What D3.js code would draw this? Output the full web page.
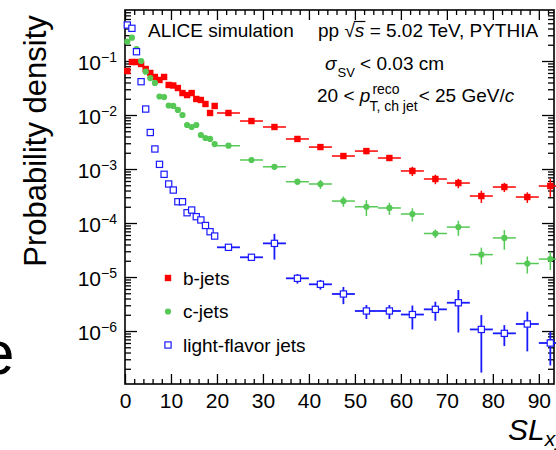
<!DOCTYPE html>
<html><head><meta charset="utf-8">
<script src="https://cdn.jsdelivr.net/npm/d3@7"></script>
<style>
html,body{margin:0;padding:0;background:#fff;}
svg{display:block;}
text{font-family:"Liberation Sans",Arial,Helvetica,sans-serif;fill:#000;white-space:pre;}
</style></head><body>
<svg id="c" width="556" height="450"></svg>
<script>
// ---------- data ----------
const xCenters = [0.5,1.5,2.5,3.5,4.5,5.5,6.5,7.5,8.5,9.5,10.5,11.5,12.5,13.5,14.5,15.5,16.5,17.5,18.5,19.5,
                  22.5,27.5,32.5,37.5,42.5,47.5,52.5,57.5,62.5,67.5,72.5,77.5,82.5,87.5,92.5];
const xHalfWidths = [0.5,0.5,0.5,0.5,0.5,0.5,0.5,0.5,0.5,0.5,0.5,0.5,0.5,0.5,0.5,0.5,0.5,0.5,0.5,0.5,
                     2.5,2.5,2.5,2.5,2.5,2.5,2.5,2.5,2.5,2.5,2.5,2.5,2.5,2.5,2.5];
const bJets = [0.0653,0.0958,0.0958,0.088,0.0711,0.060,0.0506,0.0445,0.0506,0.036,0.0352,0.0316,0.0255,0.0234,0.0255,0.0198,0.019,0.016,0.0109,0.0147,
               0.0109,0.00774,0.0060,0.0036,0.00255,0.00174,0.00215,0.0016,0.00092,0.000653,0.00055,0.000316,0.000464,0.000303,0.000484];
const bJetsErr = [0.001,0.0012,0.0012,0.0011,0.001,0.0009,0.0008,0.0008,0.0008,0.0007,0.0007,0.0006,0.0006,0.0006,0.0006,0.0005,0.0005,0.0005,0.0004,0.0004,
                  0.0002,0.00015,0.00015,0.0001,0.0001,0.0001,0.00028,0.0002,0.00018,0.00013,0.00011,0.00008,0.00009,0.000067,0.00018];
const cJets = [0.2276,0.270,0.167,0.100,0.0634,0.0484,0.0392,0.0220,0.0215,0.0150,0.0147,0.0124,0.0100,0.00653,0.0060,0.00653,0.00426,0.00375,0.0036,0.0029,
               0.0027,0.00147,0.0011,0.000582,0.000528,0.000255,0.0002,0.00019,0.000147,0.000064,0.000084,0.000026,0.000053,0.0000178,0.0000215];
const cJetsErr = [0.002,0.002,0.0015,0.001,0.0008,0.0007,0.0006,0.0005,0.0005,0.0004,0.0004,0.0004,0.0003,0.0003,0.0003,0.0003,0.0002,0.0002,0.0002,0.0002,
                  0.0002,0.00012,0.00009,0.00007,0.0001,0.000055,0.000065,0.000048,0.00004,0.0000115,0.000026,0.000009,0.000021,0.0000062,0.000008];
const lfJets = [0.464,0.403,0.1486,0.0414,0.0129,0.00474,0.00235,0.00122,0.000798,0.000528,0.000408,0.000248,0.000248,0.000155,0.000174,0.000131,0.000114,0.000090,0.000069,0.0000574,
                0.0000355,0.0000232,0.000042,0.00000946,0.00000733,0.00000485,0.00000235,0.00000235,0.00000202,0.00000252,0.00000334,0.00000107,0.000000906,0.00000135,0.0000006];
const lfJetsErr = [0.004,0.004,0.002,0.0008,0.0003,0.0001,0.00006,0.00004,0.00003,0.00002,0.00002,0.00001,0.00001,0.000008,0.000008,0.000007,0.000006,0.000005,0.000004,0.000004,
                   0.000003,0.0000025,0.000021,0.0000019,0.0000015,0.0000017,0.00000068,0.00000068,0.00000095,0.00000097,0.0000024,0.0000009,0.00000038,0.00000093,0.00000037];
const xTickValues = [0,10,20,30,40,50,60,70,80,90];
const yTickValues = [1e-1,1e-2,1e-3,1e-4,1e-5,1e-6];
const yTickExponents = ["\u22121","\u22122","\u22123","\u22124","\u22125","\u22126"];
const legendLabels = ["b-jets","c-jets","light-flavor jets"];

// ---------- layout ----------
const L = 125, R = 554, T = 10, B = 384;
const svg = d3.select("#c");
const x = d3.scaleLinear().domain([0, 93.3]).range([L, R]);
const y = d3.scaleLog().domain([1.045e-7, 0.88]).range([B, T]);

const colB = "#ff0000", colC = "#55c855", colL = "#1a1aff";

// ---------- axes ----------
const xMinor = d3.range(0, 94, 2).filter(v => v % 10 !== 0);
const yMinor = [];
for (let e = -7; e <= -1; e++) for (let k = 2; k <= 9; k++) { const v = k * Math.pow(10, e); if (v >= 1.045e-7 && v <= 0.88) yMinor.push(v); }

function styleAxis(g){ g.selectAll("path.domain").remove(); g.selectAll(".tick line").attr("stroke","#000").attr("stroke-width",1.3); }

svg.append("g").attr("transform",`translate(0,${B})`)
  .call(d3.axisBottom(x).tickValues(xTickValues).tickSizeInner(-10).tickSizeOuter(0).tickPadding(9).tickFormat(d3.format("d")))
  .call(styleAxis)
  .call(g => g.selectAll("text").attr("font-size",21).attr("font-family","'Liberation Sans',Arial,sans-serif").attr("fill","#000"));
svg.append("g").attr("transform",`translate(0,${B})`)
  .call(d3.axisBottom(x).tickValues(xMinor).tickSizeInner(-5).tickSizeOuter(0).tickFormat(""))
  .call(styleAxis);
svg.append("g").attr("transform",`translate(0,${T})`)
  .call(d3.axisTop(x).tickValues(xTickValues).tickSizeInner(-10).tickSizeOuter(0).tickFormat(""))
  .call(styleAxis);
svg.append("g").attr("transform",`translate(0,${T})`)
  .call(d3.axisTop(x).tickValues(xMinor).tickSizeInner(-5).tickSizeOuter(0).tickFormat(""))
  .call(styleAxis);
svg.append("g").attr("transform",`translate(${L},0)`)
  .call(d3.axisLeft(y).tickValues(yTickValues).tickSizeInner(-12).tickSizeOuter(0).tickFormat(""))
  .call(styleAxis);
svg.append("g").attr("transform",`translate(${L},0)`)
  .call(d3.axisLeft(y).tickValues(yMinor).tickSizeInner(-6).tickSizeOuter(0).tickFormat(""))
  .call(styleAxis);
svg.append("g").attr("transform",`translate(${R},0)`)
  .call(d3.axisRight(y).tickValues(yTickValues).tickSizeInner(-12).tickSizeOuter(0).tickFormat(""))
  .call(styleAxis);
svg.append("g").attr("transform",`translate(${R},0)`)
  .call(d3.axisRight(y).tickValues(yMinor).tickSizeInner(-6).tickSizeOuter(0).tickFormat(""))
  .call(styleAxis);

// y tick labels 10^n
const yl = svg.append("g");
yTickValues.forEach((v,i) => {
  const t = yl.append("text").attr("x", 117).attr("y", y(v) + 8.5).attr("text-anchor","end").attr("font-size",21);
  t.append("tspan").text("10");
  t.append("tspan").attr("font-size",14).attr("dy",-8).text(yTickExponents[i]);
});

// frame
svg.append("rect").attr("x",L).attr("y",T).attr("width",R-L).attr("height",B-T)
  .attr("fill","none").attr("stroke","#000").attr("stroke-width",1.6);

// ---------- series ----------
function drawSeries(vals, errs, color, kind, lw){
  const data = xCenters.map((c,i) => ({c, hw: xHalfWidths[i], v: vals[i], e: errs[i]}));
  const g = svg.append("g");
  g.selectAll("line.h").data(data).join("line").attr("class","h")
    .attr("x1", d => x(d.c - d.hw)).attr("x2", d => x(d.c + d.hw))
    .attr("y1", d => y(d.v)).attr("y2", d => y(d.v))
    .attr("stroke", color).attr("stroke-width", lw);
  g.selectAll("line.v").data(data).join("line").attr("class","v")
    .attr("x1", d => x(d.c)).attr("x2", d => x(d.c))
    .attr("y1", d => y(d.v + d.e)).attr("y2", d => (d.v - d.e > 0 ? y(d.v - d.e) : B))
    .attr("stroke", color).attr("stroke-width", lw);
  drawMarkers(g, data.map(d => [x(d.c), y(d.v)]), color, kind);
}
function drawMarkers(g, pts, color, kind){
  if (kind === "square") {
    g.selectAll("rect.m").data(pts).join("rect").attr("class","m")
      .attr("x", d => d[0]-3.2).attr("y", d => d[1]-3.2).attr("width",6.4).attr("height",6.4).attr("fill",color);
  } else if (kind === "circle") {
    g.selectAll("circle.m").data(pts).join("circle").attr("class","m")
      .attr("cx", d => d[0]).attr("cy", d => d[1]).attr("r",3.1).attr("fill",color);
  } else {
    g.selectAll("rect.m").data(pts).join("rect").attr("class","m")
      .attr("x", d => d[0]-3.1).attr("y", d => d[1]-3.1).attr("width",6.2).attr("height",6.2)
      .attr("fill","#fff").attr("stroke",color).attr("stroke-width",1.2);
  }
}
drawSeries(bJets, bJetsErr, colB, "square", 1.5);
drawSeries(cJets, cJetsErr, colC, "circle", 1.5);
drawSeries(lfJets, lfJetsErr, colL, "open", 1.8);

// ---------- legend ----------
const lg = svg.append("g");
const legY = [278, 311.5, 345];
drawMarkers(lg.append("g"), [[168, legY[0]]], colB, "square");
drawMarkers(lg.append("g"), [[168, legY[1]]], colC, "circle");
drawMarkers(lg.append("g"), [[168, legY[2]]], colL, "open");
legendLabels.forEach((s,i) => lg.append("text").attr("x",183).attr("y",legY[i]+6.5).attr("font-size",19).text(s));

// ---------- texts ----------
function piece(xp, yp, str, size, italic){
  const t = svg.append("text").attr("x",xp).attr("y",yp).attr("font-size",size)
    .attr("xml:space","preserve").text(str);
  if (italic) t.attr("font-style","italic");
  return t.node().getComputedTextLength();
}
piece(148, 36.5, "ALICE simulation", 19);
{
  let cx = 318;
  cx += piece(cx, 36.5, "pp ", 19);
  const rw = piece(cx, 36.5, "\u221A", 19);
  const sx = cx + rw;
  const sw = piece(sx, 36.5, "s", 19, true);
  svg.append("line").attr("x1", cx + rw - 1).attr("x2", sx + sw + 1).attr("y1", 21.5).attr("y2", 21.5).attr("stroke","#000").attr("stroke-width",1.2);
  cx = sx + sw;
  piece(cx, 36.5, " = 5.02 TeV, PYTHIA", 19);
}
{
  let cx = 325;
  cx += piece(cx, 70, "\u03C3", 19, true);
  cx += piece(cx + 1, 77, "SV", 13) + 1;
  piece(cx, 70, " < 0.03 cm", 19);
}
{
  let cx = 317;
  cx += piece(cx, 101.5, "20 < ", 19);
  cx += piece(cx, 101.5, "p", 19, true);
  const w1 = piece(cx + 2, 94, "reco", 14);
  const w2 = piece(cx - 1, 110.5, "T, ch jet", 14);
  cx = Math.max(cx + 2 + w1, cx - 1 + w2) + 1;
  cx += piece(cx, 101.5, "< 25 GeV/", 19);
  piece(cx, 101.5, "c", 19, true);
}
// axis titles
svg.append("text").attr("transform","translate(46,141) rotate(-90)").attr("text-anchor","middle")
  .attr("font-size",31).text("Probability density");
{
  const w = piece(508, 440, "SL", 30, true);
  piece(508 + w, 446, "xy", 21, true);
}
// fragment of neighbouring panel text
svg.append("text").attr("x",14.5).attr("y",374).attr("text-anchor","end").attr("font-size",62).text("e");
</script>
</body></html>
